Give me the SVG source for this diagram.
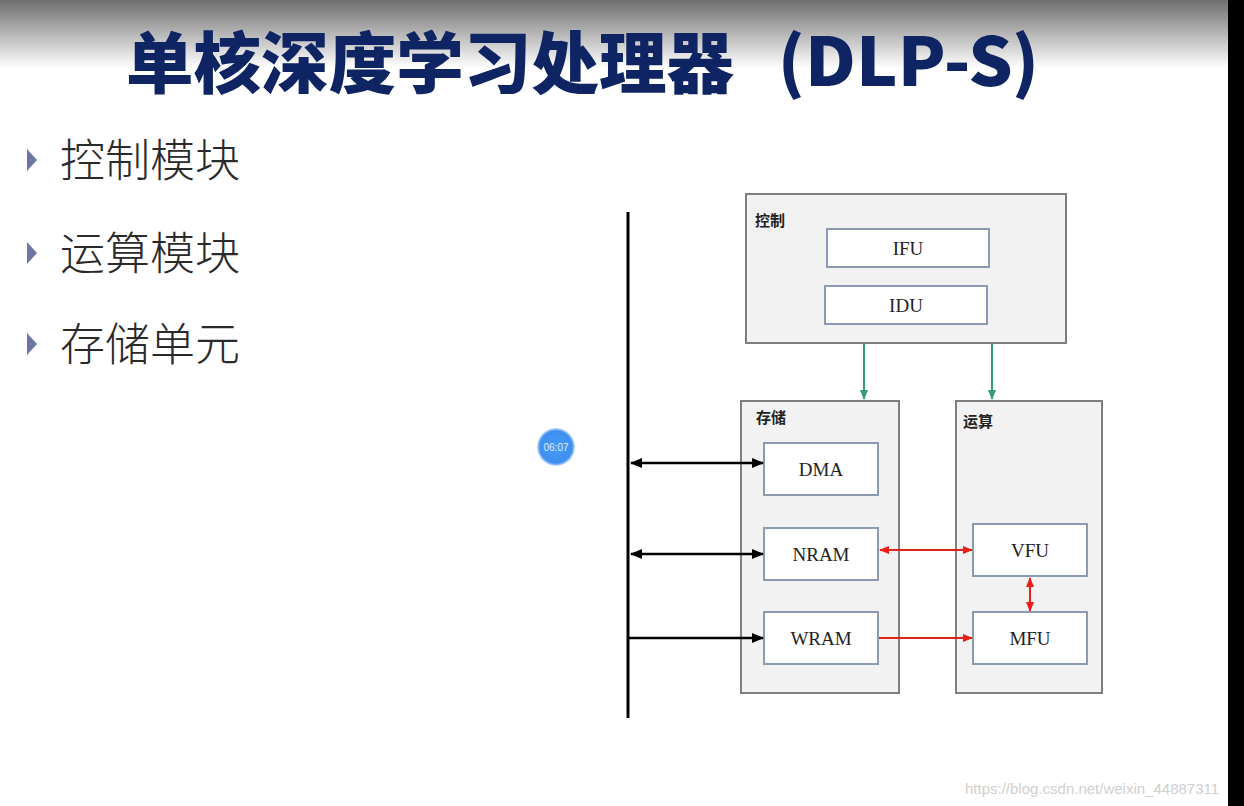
<svg xmlns="http://www.w3.org/2000/svg" width="1244" height="806" viewBox="0 0 1244 806">
<style>
.grp{fill:#f2f2f2;stroke:#7f7f7f;stroke-width:2}
.box{fill:#ffffff;stroke:#8c9ab3;stroke-width:2}
.glabel{font-family:"Noto Sans CJK SC","Noto Sans",sans-serif;font-weight:bold;font-size:15px;fill:#222}
.blabel{font-family:"Liberation Serif",serif;font-size:19px;fill:#222;text-anchor:middle}
.bullet{font-family:"Noto Sans CJK SC",sans-serif;font-size:45px;fill:#2a2a2a;font-weight:300}
.title{font-family:"Noto Sans CJK SC",sans-serif;font-weight:900;font-size:67px;fill:#0f2563}
.blk{stroke:#000;stroke-width:2.5;fill:none}
.red{stroke:#e8201a;stroke-width:2;fill:none}
.grn{stroke:#2e9e6e;stroke-width:2;fill:none}
</style>
<defs>
<linearGradient id="topg" x1="0" y1="0" x2="0" y2="1">
<stop offset="0" stop-color="#6e6e6e"/>
<stop offset="1" stop-color="#ffffff"/>
</linearGradient>
<radialGradient id="clk" cx="0.5" cy="0.5" r="0.5">
<stop offset="0" stop-color="#4a9cf5"/>
<stop offset="0.85" stop-color="#3d8ff0"/>
<stop offset="1" stop-color="#cfe3fb"/>
</radialGradient>
<marker id="ab" viewBox="0 0 10 10" refX="9" refY="5" markerWidth="5" markerHeight="5" orient="auto-start-reverse"><path d="M0,1 L10,5 L0,9 z" fill="#000"/></marker>
<marker id="ar" viewBox="0 0 10 10" refX="9" refY="5" markerWidth="5" markerHeight="5" orient="auto-start-reverse"><path d="M0,1 L10,5 L0,9 z" fill="#e8201a"/></marker>
<marker id="ag" viewBox="0 0 10 10" refX="9" refY="5" markerWidth="5" markerHeight="5" orient="auto-start-reverse"><path d="M0,1 L10,5 L0,9 z" fill="#2e9e6e"/></marker>
</defs>
<rect width="1244" height="806" fill="#ffffff"/>
<rect width="1244" height="68" fill="url(#topg)"/>
<rect x="1228" y="0" width="16" height="806" fill="#000"/>
<g id="title">
<text class="title" x="126" y="88" textLength="608" lengthAdjust="spacingAndGlyphs">单核深度学习处理器</text>
<text class="title" x="778" y="86">(</text>
<text class="title" x="805" y="86" textLength="208" lengthAdjust="spacingAndGlyphs">DLP-S</text>
<text class="title" x="1012" y="86">)</text>
</g>

<g id="bullets">
<path d="M27,149 L37,160 L27,171 z" fill="#6c78a3"/>
<text class="bullet" x="60" y="177">控制模块</text>
<path d="M27,242 L37,253 L27,264 z" fill="#6c78a3"/>
<text class="bullet" x="60" y="270">运算模块</text>
<path d="M27,333 L37,344 L27,355 z" fill="#6c78a3"/>
<text class="bullet" x="60" y="361">存储单元</text>
</g>

<g id="bus"><line x1="628" y1="212" x2="628" y2="718" stroke="#000" stroke-width="3"/></g>

<g id="control">
<rect class="grp" x="746" y="194" width="320" height="149"/>
<text class="glabel" x="755" y="226">控制</text>
</g>
<g id="IFU"><rect class="box" x="827" y="229" width="162" height="38"/><text class="blabel" x="908" y="255">IFU</text></g>
<g id="IDU"><rect class="box" x="825" y="286" width="162" height="38"/><text class="blabel" x="906" y="312">IDU</text></g>

<g id="storage">
<rect class="grp" x="741" y="401" width="158" height="292"/>
<text class="glabel" x="756" y="423">存储</text>
</g>
<g id="DMA"><rect class="box" x="764" y="443" width="114" height="52"/><text class="blabel" x="821" y="476">DMA</text></g>
<g id="NRAM"><rect class="box" x="764" y="528" width="114" height="52"/><text class="blabel" x="821" y="561">NRAM</text></g>
<g id="WRAM"><rect class="box" x="764" y="612" width="114" height="52"/><text class="blabel" x="821" y="645">WRAM</text></g>

<g id="compute">
<rect class="grp" x="956" y="401" width="146" height="292"/>
<text class="glabel" x="963" y="427">运算</text>
</g>
<g id="VFU"><rect class="box" x="973" y="524" width="114" height="52"/><text class="blabel" x="1030" y="557">VFU</text></g>
<g id="MFU"><rect class="box" x="973" y="612" width="114" height="52"/><text class="blabel" x="1030" y="645">MFU</text></g>

<g id="connectors">
<line class="grn" x1="864" y1="344" x2="864" y2="399" marker-end="url(#ag)"/>
<line class="grn" x1="992" y1="344" x2="992" y2="399" marker-end="url(#ag)"/>
<line class="blk" x1="631" y1="463" x2="763" y2="463" marker-start="url(#ab)" marker-end="url(#ab)"/>
<line class="blk" x1="631" y1="554" x2="763" y2="554" marker-start="url(#ab)" marker-end="url(#ab)"/>
<line class="blk" x1="629" y1="638" x2="763" y2="638" marker-end="url(#ab)"/>
<line class="red" x1="880" y1="550" x2="972" y2="550" marker-start="url(#ar)" marker-end="url(#ar)"/>
<line class="red" x1="879" y1="638" x2="972" y2="638" marker-end="url(#ar)"/>
<line class="red" x1="1030" y1="578" x2="1030" y2="611" marker-start="url(#ar)" marker-end="url(#ar)"/>
</g>

<g id="clock">
<circle cx="556" cy="447" r="19" fill="url(#clk)"/>
<text x="556" y="451" font-family="'Liberation Sans',sans-serif" font-size="10" fill="#dcebff" text-anchor="middle">06:07</text>
</g>
<text x="965" y="794" font-family="'Liberation Sans',sans-serif" font-size="15" fill="#d0d0d0">https://blog.csdn.net/weixin_44887311</text>
</svg>
